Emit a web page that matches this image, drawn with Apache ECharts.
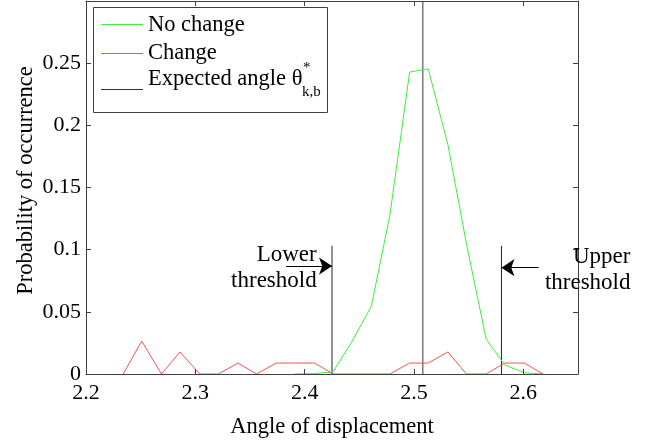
<!DOCTYPE html>
<html><head><meta charset="utf-8">
<script src="https://cdn.jsdelivr.net/npm/echarts@6/dist/echarts.min.js"></script>
<style>html,body{margin:0;padding:0;background:#fff}#c{width:650px;height:444px}</style>
</head><body><div id="c"></div>
<script>
// ---- data ----
const angles = [2.234, 2.251, 2.269, 2.286, 2.304, 2.321, 2.339, 2.356, 2.374, 2.391, 2.409, 2.426, 2.443, 2.461, 2.478, 2.496, 2.513, 2.531, 2.548, 2.566, 2.583, 2.601, 2.618];
const noChange = [null, null, null, null, null, null, null, null, null, 0, 0.0003, 0.0018, 0.0257, 0.0546, 0.128, 0.2428, 0.2454, 0.1845, 0.1045, 0.028, 0.0073, 0.001, 0];
const change = [0, 0.0265, 0, 0.0177, 0, 0, 0.0088, 0, 0.0088, 0.0088, 0.0088, 0, 0, 0, 0, 0.0088, 0.0088, 0.0177, 0, 0, 0.0088, 0.0088, 0];
const expectedAngle = 2.508;
const lowerThreshold = 2.425;
const upperThreshold = 2.58;
const thresholdTop = 0.103;
const lowerArrow = [2.383, 0.0868];   // arrow tail [x, y]
const upperArrow = [2.614, 0.0855];
const lowerLabelAt = [2.411, 0.0855];
const upperLabelAt = [2.698, 0.0840];
const xRange = [2.2, 2.65];
const yRange = [0, 0.3];
const xTickStep = 0.1;
const yTickStep = 0.05;
const legendNames = ['No change', 'Change', 'Expected angle'];

const FONT = 'Liberation Serif';
const AX = '#404040';
const GREEN = '#3cf03c', RED = '#f25555';
const chart = echarts.init(document.getElementById('c'), null, {renderer: 'canvas'});

const fmt = v => String(+(+v).toFixed(2));
function xAxisCfg(pos, labels) {
  return {
    type: 'value', position: pos, min: xRange[0], max: xRange[1], interval: xTickStep,
    z: 5,
    axisLine: {show: true, onZero: false, lineStyle: {color: AX, width: 1}},
    axisTick: {show: true, inside: true, length: 5, lineStyle: {color: AX}},
    axisLabel: {show: labels, showMaxLabel: false, formatter: fmt, color: '#000', fontFamily: FONT, fontSize: 22, margin: 8},
    splitLine: {show: false},
    name: labels ? 'Angle of displacement' : '', nameLocation: 'middle', nameGap: 42, nameMoveOverlap: false,
    nameTextStyle: {color: '#000', fontFamily: FONT, fontSize: 22.5}
  };
}
function yAxisCfg(pos, labels) {
  return {
    type: 'value', position: pos, min: yRange[0], max: yRange[1], interval: yTickStep,
    z: 5,
    axisLine: {show: true, onZero: false, lineStyle: {color: AX, width: 1}},
    axisTick: {show: true, inside: true, length: 5, lineStyle: {color: AX}},
    axisLabel: {show: labels, showMaxLabel: false, formatter: fmt, color: '#000', fontFamily: FONT, fontSize: 22, margin: 5},
    splitLine: {show: false},
    name: labels ? 'Probability of occurrence' : '', nameLocation: 'middle', nameGap: 48, nameMoveOverlap: false,
    nameTextStyle: {color: '#000', fontFamily: FONT, fontSize: 22.5, padding: [0, 0, 0, 14]}
  };
}

const pair = (xs, ys) => xs.map((x, i) => [x, ys[i]]).filter(p => p[1] !== null);

const arrowStyle = {
  silent: true, animation: false, symbol: ['none', 'arrow'], symbolSize: 13,
  label: {show: false}, lineStyle: {color: '#000', width: 1, type: 'solid'}
};

chart.setOption({
  animation: false,
  backgroundColor: '#fff',
  grid: {left: 86, top: 1, right: 72, bottom: 64, containLabel: false},
  xAxis: [xAxisCfg('bottom', true), xAxisCfg('top', false)],
  yAxis: [yAxisCfg('left', true), yAxisCfg('right', false)],
  series: [
    {name: legendNames[0], type: 'line', data: pair(angles, noChange), symbol: 'none',
     lineStyle: {color: GREEN, width: 1}, z: 3},
    {name: legendNames[1], type: 'line', data: pair(angles, change), symbol: 'none',
     lineStyle: {color: RED, width: 1}, z: 3},
    {name: legendNames[2], type: 'line', data: [[expectedAngle, yRange[0]], [expectedAngle, yRange[1]]], symbol: 'none',
     lineStyle: {color: '#808080', width: 1.6}, z: 2},
    {name: 'Lower threshold', type: 'line', data: [[lowerThreshold, 0], [lowerThreshold, thresholdTop]], symbol: 'none',
     lineStyle: {color: '#222', width: 1}, z: 2,
     markLine: Object.assign({data: [[{coord: lowerArrow}, {coord: [lowerThreshold, lowerArrow[1]]}]]}, arrowStyle)},
    {name: 'Upper threshold', type: 'line', data: [[upperThreshold, 0], [upperThreshold, thresholdTop]], symbol: 'none',
     lineStyle: {color: '#222', width: 1}, z: 2,
     markLine: Object.assign({data: [[{coord: upperArrow}, {coord: [upperThreshold, upperArrow[1]]}]]}, arrowStyle)}
  ]
});

// annotation texts and legend box
const lp = chart.convertToPixel({gridIndex: 0}, lowerLabelAt);
const up = chart.convertToPixel({gridIndex: 0}, upperLabelAt);
const fontStr = s => s + 'px "' + FONT + '"';
const tStyle = (txt, extra) => Object.assign({text: txt, fill: '#000', font: fontStr(22.5)}, extra || {});
const ctx = document.createElement('canvas').getContext('2d');
ctx.font = fontStr(22.5);
const lx = 101, lx2 = 143, tx = 148;
const thetaText = legendNames[2] + ' \u03b8';
const supX = tx + ctx.measureText(thetaText).width + 0.5;
ctx.font = fontStr(15);
const subW = ctx.measureText('k,b').width;
const boxRight = supX + subW + 6;
chart.setOption({
  graphic: [
    {type: 'text', x: lp[0], y: lp[1], style: tStyle('Lower\nthreshold', {align: 'right', verticalAlign: 'middle', lineHeight: 26, font: fontStr(23)}), z: 10},
    {type: 'text', x: up[0], y: up[1], style: tStyle('Upper\nthreshold', {align: 'right', verticalAlign: 'middle', lineHeight: 26, font: fontStr(23)}), z: 10},
    {type: 'rect', shape: {x: 93.5, y: 7.5, width: Math.round(boxRight - 93.5), height: 105}, style: {fill: '#fff', stroke: AX, lineWidth: 1}, z: 20},
    {type: 'line', shape: {x1: lx, y1: 24.5, x2: lx2, y2: 24.5}, style: {stroke: GREEN, lineWidth: 1}, z: 21},
    {type: 'line', shape: {x1: lx, y1: 53.5, x2: lx2, y2: 53.5}, style: {stroke: RED, lineWidth: 1}, z: 21},
    {type: 'line', shape: {x1: lx, y1: 89.5, x2: lx2, y2: 89.5}, style: {stroke: '#333', lineWidth: 1}, z: 21},
    {type: 'text', x: tx, y: 25, style: tStyle(legendNames[0], {verticalAlign: 'middle'}), z: 21},
    {type: 'text', x: tx, y: 53, style: tStyle(legendNames[1], {verticalAlign: 'middle'}), z: 21},
    {type: 'text', x: tx, y: 79, style: tStyle(thetaText, {verticalAlign: 'middle'}), z: 21},
    {type: 'text', x: supX, y: 68, style: tStyle('*', {verticalAlign: 'middle', font: fontStr(15)}), z: 21},
    {type: 'text', x: supX - 1, y: 92, style: tStyle('k,b', {verticalAlign: 'middle', font: fontStr(15)}), z: 21}
  ]
});
</script>
</body></html>
